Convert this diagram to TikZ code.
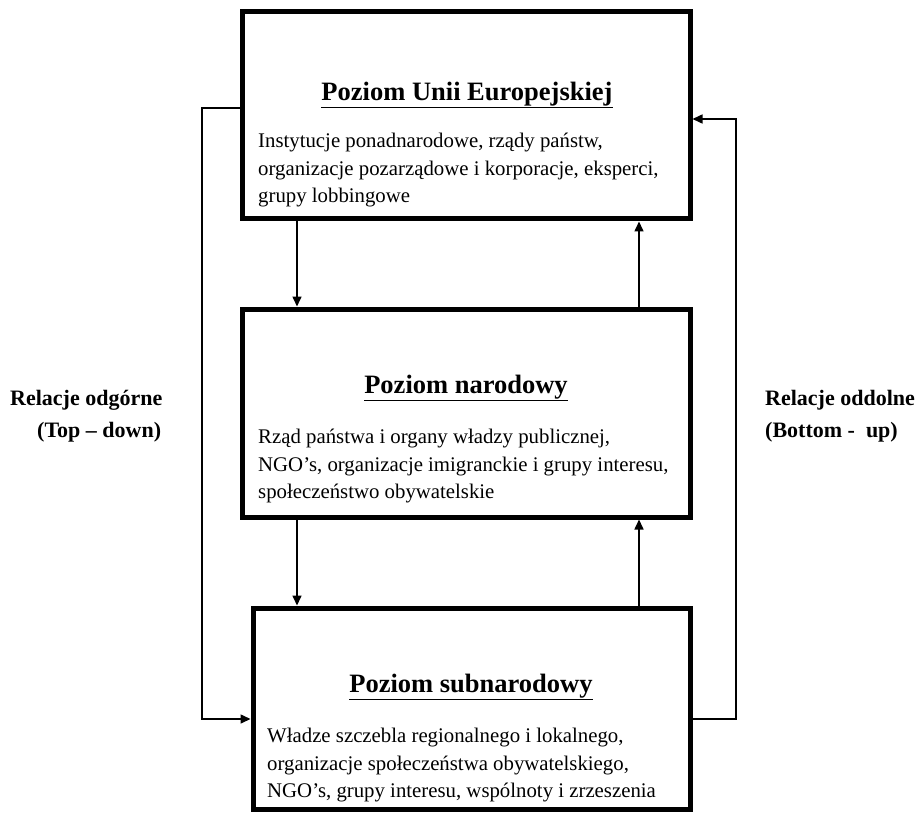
\documentclass[tikz,border=0pt]{standalone}
\usepackage{fontspec}
\setmainfont{Liberation Serif}
\usetikzlibrary{arrows.meta}
\begin{document}
\begin{tikzpicture}[x=1pt,y=-1pt,
  levelbox/.style={draw=black,line width=5pt,rectangle,inner sep=0pt},
  titletext/.style={inner sep=0pt,font=\fontsize{26.5}{30}\selectfont\bfseries},
  bodytext/.style={inner sep=0pt,anchor=north west,align=left,font=\fontsize{20.8}{27.5}\selectfont},
  sidetext/.style={inner sep=0pt,anchor=west,font=\fontsize{22}{26}\selectfont\bfseries},
  conn/.style={draw=black,line width=1.6pt,-{Triangle[length=10pt,width=9pt]}}]
\useasboundingbox (0,0) rectangle (921,821);
% boxes
\node[levelbox,minimum width=448pt,minimum height=207pt] (eu) at (466,115.5) {};
\node[levelbox,minimum width=448pt,minimum height=208pt] (nat) at (466,413) {};
\node[levelbox,minimum width=437pt,minimum height=201pt] (sub) at (471.5,708.5) {};
% titles
\node[titletext] (eut) at (467,95) {\underline{Poziom Unii Europejskiej}};
\node[titletext] (natt) at (466,388) {\underline{Poziom narodowy}};
\node[titletext] (subt) at (471,687) {\underline{Poziom subnarodowy}};
% bodies
\node[bodytext] (eub) at (258,133) {Instytucje ponadnarodowe, rządy państw,\\organizacje pozarządowe i korporacje, eksperci,\\grupy lobbingowe};
\node[bodytext] (natb) at (258,429) {Rząd państwa i organy władzy publicznej,\\NGO’s, organizacje imigranckie i grupy interesu,\\społeczeństwo obywatelskie};
\node[bodytext] (subb) at (267,728) {Władze szczebla regionalnego i lokalnego,\\organizacje społeczeństwa obywatelskiego,\\NGO’s, grupy interesu, wspólnoty i zrzeszenia};
% side labels
\node[sidetext] (l1) at (10,400) {Relacje odgórne};
\node[sidetext] (l2) at (37,432) {(Top – down)};
\node[sidetext] (r1) at (765,400) {Relacje oddolne};
\node[sidetext] (r2) at (765,432) {(Bottom -\ \ up)};
% connector coordinates
\coordinate (xd) at (297,0);
\coordinate (xu) at (639,0);
\coordinate (lt) at (202,108);
\coordinate (lb) at (202,719);
\coordinate (rb) at (736,719);
\coordinate (rt) at (736,119);
% vertical arrows
\draw[conn] (xd |- eu.south) -- (xd |- nat.north);
\draw[conn] (xd |- nat.south) -- (xd |- sub.north);
\draw[conn] (xu |- sub.north) -- (xu |- nat.south);
\draw[conn] (xu |- nat.north) -- (xu |- eu.south);
% loops
\draw[conn] (lt -| eu.west) -- (lt) -- (lb) -- (lb -| sub.west);
\draw[conn] (rb -| sub.east) -- (rb) -- (rt) -- (rt -| eu.east);
\end{tikzpicture}
\end{document}
